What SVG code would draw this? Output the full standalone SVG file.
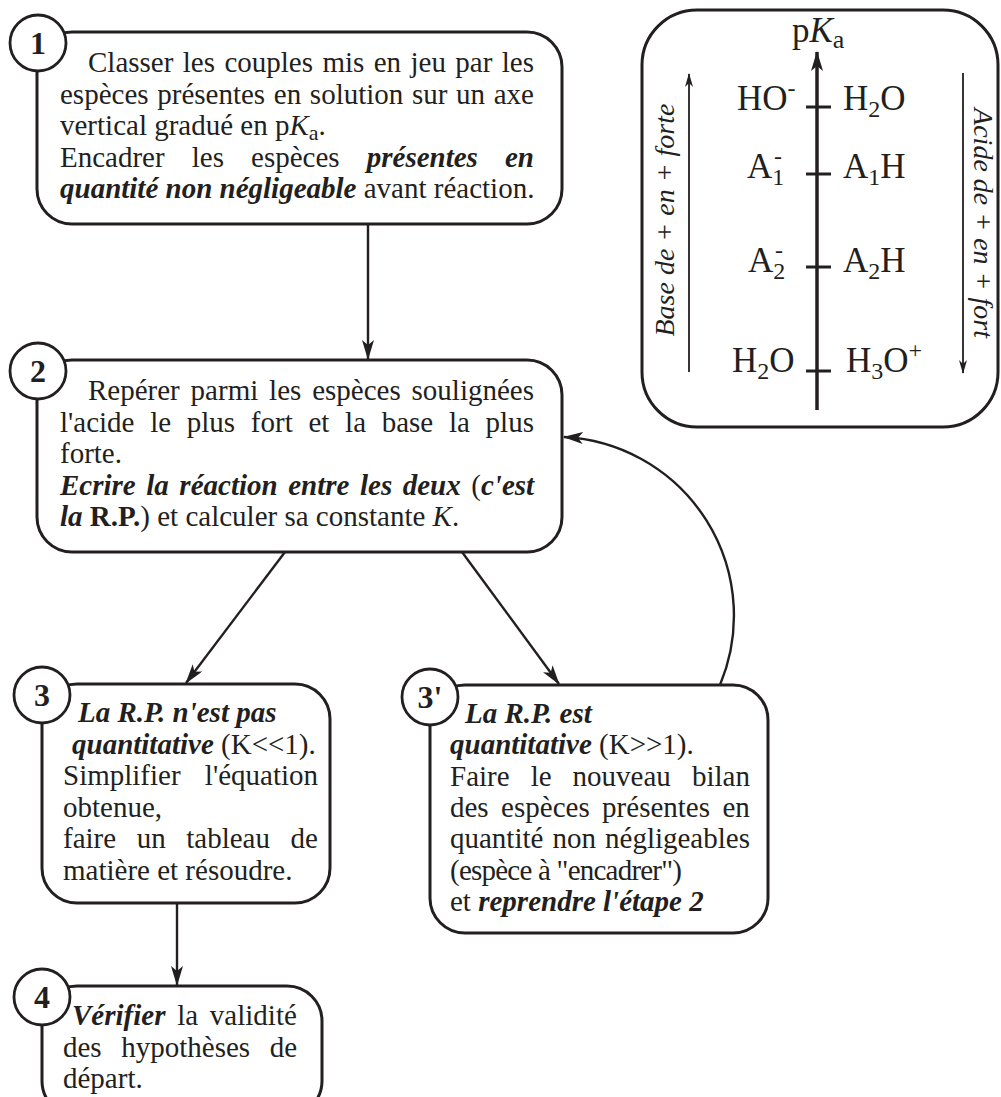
<svg xmlns="http://www.w3.org/2000/svg" width="1001" height="1097" viewBox="0 0 1001 1097">
<style>
.bg{fill:#ffffff}
.box{fill:#ffffff;stroke:#231f20;stroke-width:3}
.circ{fill:#ffffff;stroke:#231f20;stroke-width:2.8}
.con{fill:none;stroke:#231f20;stroke-width:2.4}
.thin{fill:none;stroke:#231f20;stroke-width:1.8}
.axis{fill:none;stroke:#231f20;stroke-width:3.5}
.tick{stroke:#231f20;stroke-width:3}
text{font-family:"Liberation Serif","Times New Roman",serif;fill:#231f20}
.t{font-size:29px}
.bi{font-weight:bold;font-style:italic}
.b{font-weight:bold}
.i{font-style:italic}
.num{font-size:32px;font-weight:bold;text-anchor:middle}
.pk{font-size:35px}
.side{font-size:28px;font-style:italic;text-anchor:middle}
</style>
<defs>
<marker id="ah" viewBox="0 0 20 12" refX="19" refY="6" markerWidth="20" markerHeight="12" markerUnits="userSpaceOnUse" orient="auto"><path d="M0,0 L20,6 L0,12 L5,6 Z" fill="#231f20"/></marker>
<marker id="ahs" viewBox="0 0 14 8" refX="13" refY="4" markerWidth="14" markerHeight="8" markerUnits="userSpaceOnUse" orient="auto"><path d="M0,0 L14,4 L0,8 L4,4 Z" fill="#231f20"/></marker>
</defs>
<rect class="bg" x="0" y="0" width="1001" height="1097"/>

<g id="node1">
<rect class="box" x="37" y="32" width="525" height="192" rx="35"/>
<circle class="circ" cx="38" cy="43" r="28"/>
<text class="num" x="38" y="54">1</text>
<text class="t" x="88" y="72" word-spacing="2.16">Classer les couples mis en jeu par les</text>
<text class="t" x="60" y="103.5" word-spacing="1.42">espèces présentes en solution sur un axe</text>
<text class="t" x="60" y="135">vertical gradué en p<tspan class="i">K</tspan><tspan font-size="22" dy="5">a</tspan><tspan dy="-5">.</tspan></text>
<text class="t" x="60" y="166.5" word-spacing="19.85">Encadrer les espèces <tspan class="bi">présentes en</tspan></text>
<text class="t" x="60" y="198"><tspan class="bi">quantité non négligeable</tspan> avant réaction.</text>
</g>

<g id="nodepka">
<rect class="box" x="642" y="10" width="356" height="417" rx="55"/>
<text class="pk" x="792" y="42">p<tspan class="i">K</tspan><tspan font-size="26" dy="6">a</tspan></text>
<line class="tick" x1="806" y1="107" x2="831" y2="107"/>
<line class="tick" x1="806" y1="174" x2="831" y2="174"/>
<line class="tick" x1="806" y1="267" x2="831" y2="267"/>
<line class="tick" x1="806" y1="371" x2="831" y2="371"/>
<text class="pk" x="737" y="110">HO<tspan font-size="24" dy="-14">-</tspan></text>
<text class="pk" x="843" y="110">H<tspan font-size="24" dy="7">2</tspan><tspan dy="-7">O</tspan></text>
<text class="pk" x="747" y="178">A<tspan font-size="24" dy="7">1</tspan><tspan font-size="24" x="774" dy="-21">-</tspan></text>
<text class="pk" x="843" y="178">A<tspan font-size="24" dy="7">1</tspan><tspan dy="-7">H</tspan></text>
<text class="pk" x="748" y="272">A<tspan font-size="24" dy="7">2</tspan><tspan font-size="24" x="775" dy="-21">-</tspan></text>
<text class="pk" x="843" y="272">A<tspan font-size="24" dy="7">2</tspan><tspan dy="-7">H</tspan></text>
<text class="pk" x="732" y="372">H<tspan font-size="24" dy="7">2</tspan><tspan dy="-7">O</tspan></text>
<text class="pk" x="846" y="372">H<tspan font-size="24" dy="7">3</tspan><tspan dy="-7">O</tspan><tspan font-size="24" dy="-14">+</tspan></text>
<text class="side" transform="translate(674,220) rotate(-90)">Base de + en + forte</text>
<text class="side" transform="translate(974,223) rotate(90)">Acide de + en + fort</text>
<line class="axis" x1="817" y1="410" x2="817" y2="52" marker-end="url(#ah)"/>
<line class="thin" x1="689" y1="372" x2="689" y2="74" marker-end="url(#ahs)"/>
<line class="thin" x1="963" y1="73" x2="963" y2="373" marker-end="url(#ahs)"/>
</g>

<g id="node2">
<rect class="box" x="37" y="360" width="525" height="192" rx="35"/>
<circle class="circ" cx="38" cy="371" r="28"/>
<text class="num" x="38" y="382">2</text>
<text class="t" x="88" y="400" word-spacing="3.6">Repérer parmi les espèces soulignées</text>
<text class="t" x="60" y="431.5" word-spacing="8.46">l'acide le plus fort et la base la plus</text>
<text class="t" x="60" y="463">forte.</text>
<text class="t" x="60" y="494.5" word-spacing="3.3"><tspan class="bi">Ecrire la réaction entre les deux </tspan>(<tspan class="bi">c'est</tspan></text>
<text class="t" x="60" y="526"><tspan class="bi">la</tspan> <tspan class="b">R.P.</tspan>) et calculer sa constante <tspan class="i">K</tspan>.</text>
</g>

<g id="node3">
<rect class="box" x="42" y="684" width="288" height="219" rx="35"/>
<circle class="circ" cx="42" cy="695" r="28"/>
<text class="num" x="42" y="706">3</text>
<text class="t bi" x="78" y="722">La R.P. n'est pas</text>
<text class="t" x="72" y="753.5"><tspan class="bi">quantitative</tspan> (K&lt;&lt;1).</text>
<text class="t" x="63" y="785" word-spacing="17">Simplifier l'équation</text>
<text class="t" x="63" y="816.5">obtenue,</text>
<text class="t" x="63" y="848" word-spacing="13.3">faire un tableau de</text>
<text class="t" x="63" y="879.5">matière et résoudre.</text>
</g>

<g id="node3b">
<rect class="box" x="430" y="685" width="338" height="248" rx="35"/>
<circle class="circ" cx="430" cy="697" r="28"/>
<text class="num" x="430" y="708">3'</text>
<text class="t bi" x="465" y="723">La R.P. est</text>
<text class="t" x="450" y="754.3"><tspan class="bi">quantitative</tspan> (K&gt;&gt;1).</text>
<text class="t" x="450" y="785.6" word-spacing="13.8">Faire le nouveau bilan</text>
<text class="t" x="450" y="816.9" word-spacing="5.2">des espèces présentes en</text>
<text class="t" x="450" y="848.2" word-spacing="1.8">quantité non négligeables</text>
<text class="t" x="450" y="879.5" textLength="232" lengthAdjust="spacing">(espèce à "encadrer")</text>
<text class="t" x="450" y="910.8">et <tspan class="bi">reprendre l'étape 2</tspan></text>
</g>

<g id="node4">
<rect class="box" x="42" y="986" width="280" height="130" rx="35"/>
<circle class="circ" cx="42" cy="997" r="28"/>
<text class="num" x="42" y="1008">4</text>
<text class="t" x="72" y="1025" word-spacing="4.5"><tspan class="bi">Vérifier</tspan> la validité</text>
<text class="t" x="63" y="1056.5" word-spacing="12.3">des hypothèses de</text>
<text class="t" x="63" y="1088">départ.</text>
</g>

<g id="connectors">
<line class="con" x1="368" y1="224" x2="368" y2="359" marker-end="url(#ah)"/>
<line class="con" x1="285" y1="552" x2="186" y2="683" marker-end="url(#ah)"/>
<line class="con" x1="462" y1="552" x2="559" y2="684" marker-end="url(#ah)"/>
<line class="con" x1="177" y1="903" x2="177" y2="985" marker-end="url(#ah)"/>
<path class="con" d="M 720 685 A 179 179 0 0 0 564 437" marker-end="url(#ah)"/>
</g>
</svg>
